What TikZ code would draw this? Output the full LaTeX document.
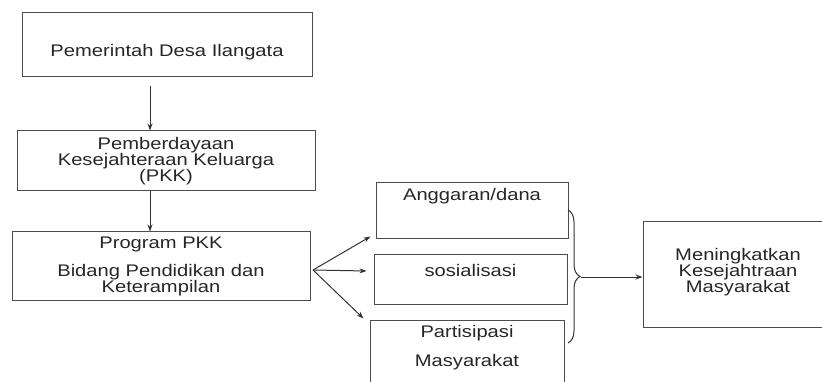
\documentclass[tikz,border=0pt]{standalone}
\usepackage{fontspec}
\setmainfont[FakeStretch=1.2]{Liberation Sans}
\usetikzlibrary{arrows.meta,decorations.pathreplacing}

\begin{document}
\begin{tikzpicture}[x=1pt,y=-1pt,->,>={Stealth[length=7pt,width=5pt]},
  line width=1pt,draw=black!80,
  box/.style={draw=black!70,line width=1pt,inner sep=0pt,text=black!85,
  align=center,font=\fontsize{16.8}{16}\selectfont},
  label text/.style={inner sep=0pt,text=black!85,align=center,
  font=\fontsize{16.8}{16}\selectfont}]

  \clip (0,0) rectangle (822,382);

  % left column
  \node[box,minimum width=290pt,minimum height=64pt] (pemdes) at (167,45) {};
  \node[label text] (pemdes-t) at (167,52) {Pemerintah Desa Ilangata};
  \node[box,minimum width=298pt,minimum height=60pt] (pkk) at (166,161)
    {Pemberdayaan\\Kesejahteraan Keluarga\\(PKK)};
  \node[box,minimum width=298pt,minimum height=68pt] (program) at (161,266)
    {Program PKK\\[12pt]Bidang Pendidikan dan\\Keterampilan};

  % middle column
  \node[box,minimum width=192pt,minimum height=56pt] (anggaran) at (472,211) {};
  \node[label text] (anggaran-t) at (472,196) {Anggaran/dana};
  \node[box,minimum width=193pt,minimum height=49pt] (sosialisasi) at (470.5,279.5) {};
  \node[label text] (sosialisasi-t) at (470.5,270) {sosialisasi};
  \node[box,minimum width=194pt,minimum height=80pt] (partisipasi) at (467,360) {};
  \node[label text] (partisipasi-t) at (467,347.5) {Partisipasi\\[13pt]Masyarakat};

  % right
  \node[box,minimum width=230pt,minimum height=105pt] (meningkat) at (758,274.5) {};
  \node[label text] (meningkat-t) at (738,272)
    {Meningkatkan\\Kesejahtraan\\Masyarakat};

  \coordinate (fork) at (313,270);
  \coordinate (brtop) at (568,210);
  \coordinate (brbot) at (568,343);
  \coordinate (tip) at (581,277);

  \draw ([xshift=-17pt,yshift=-9pt]pemdes.south) -- ([xshift=-16pt]pkk.north);
  \draw ([xshift=-16pt]pkk.south) -- ([xshift=-11pt]program.north);

  \draw (fork) -- ([xshift=-5pt,yshift=3pt]anggaran.south west);
  \draw (fork) -- ([xshift=-7pt,yshift=8.5pt]sosialisasi.west);
  \draw (fork) -- ([xshift=-6pt,yshift=1pt]partisipasi.north west);

  \draw[-,decorate,decoration={brace,amplitude=12pt}] (brtop) -- (brbot);
  \draw (tip) -- (tip -| meningkat.west);

\end{tikzpicture}
\end{document}
